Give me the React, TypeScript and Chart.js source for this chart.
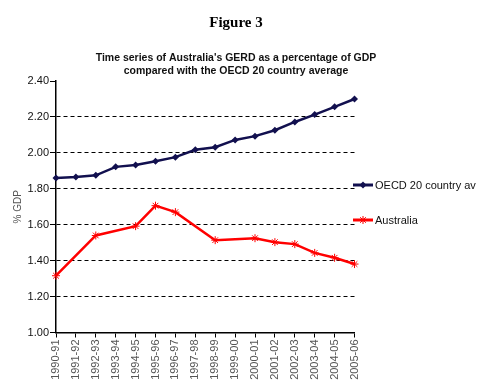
import React, { useEffect, useRef } from "react";
import { Chart, registerables } from "chart.js";

Chart.register(...registerables);

const categories = [
  "1990-91", "1991-92", "1992-93", "1993-94", "1994-95", "1995-96", "1996-97", "1997-98",
  "1998-99", "1999-00", "2000-01", "2001-02", "2002-03", "2003-04", "2004-05", "2005-06",
];
const oecdValues = [1.86, 1.865, 1.875, 1.922, 1.932, 1.953, 1.976, 2.017, 2.031, 2.072, 2.093, 2.126, 2.172, 2.213, 2.256, 2.3];
const australiaValues: (number | null)[] = [1.316, null, 1.54, null, 1.592, 1.706, 1.67, null, 1.514, null, 1.525, 1.503, 1.492, 1.443, 1.416, 1.381];
const yTicks = [1.0, 1.2, 1.4, 1.6, 1.8, 2.0, 2.2, 2.4];
const titleText = "Figure 3";
const subtitleLines = [
  "Time series of Australia's GERD as a percentage of GDP",
  "compared with the OECD 20 country average",
];
const seriesLabels = ["OECD 20 country av", "Australia"];

const SANS = "'Liberation Sans', Arial, sans-serif";
const SERIF = "'Liberation Serif', 'Times New Roman', serif";
const NAVY = "#12104f";
const RED = "#ff0000";

function drawDiamond(ctx: CanvasRenderingContext2D, x: number, y: number, r: number, color: string) {
  ctx.beginPath();
  ctx.moveTo(x, y - r);
  ctx.lineTo(x + r, y);
  ctx.lineTo(x, y + r);
  ctx.lineTo(x - r, y);
  ctx.closePath();
  ctx.fillStyle = color;
  ctx.fill();
}

function drawStar(ctx: CanvasRenderingContext2D, x: number, y: number, r: number, color: string) {
  ctx.beginPath();
  ctx.moveTo(x - r, y);
  ctx.lineTo(x + r, y);
  ctx.moveTo(x, y - r);
  ctx.lineTo(x, y + r);
  const d = r * 0.707;
  ctx.moveTo(x - d, y - d);
  ctx.lineTo(x + d, y + d);
  ctx.moveTo(x - d, y + d);
  ctx.lineTo(x + d, y - d);
  ctx.strokeStyle = color;
  ctx.lineWidth = 1;
  ctx.stroke();
}

const decorPlugin = {
  id: "decor",
  afterDraw(chart: any) {
    const ctx: CanvasRenderingContext2D = chart.ctx;
    ctx.save();
    ctx.textAlign = "center";
    ctx.textBaseline = "middle";
    ctx.fillStyle = "#000";
    ctx.font = `bold 15px ${SERIF}`;
    ctx.fillText(titleText, 228, 15);
    ctx.font = `bold 10.5px ${SANS}`;
    ctx.fillStyle = "#111";
    ctx.fillText(subtitleLines[0], 228, 50.5);
    ctx.fillText(subtitleLines[1], 228, 63.5);

    // legend
    const ys = [177, 212];
    const colors = [NAVY, RED];
    ctx.textAlign = "left";
    ctx.font = `11px ${SANS}`;
    for (let i = 0; i < 2; i++) {
      const y = ys[i];
      ctx.beginPath();
      ctx.moveTo(345, y);
      ctx.lineTo(365, y);
      ctx.strokeStyle = colors[i];
      ctx.lineWidth = 3;
      ctx.stroke();
      if (i === 0) drawDiamond(ctx, 355, y, 3.5, NAVY);
      else drawStar(ctx, 355, y, 4, RED);
      ctx.fillStyle = "#111";
      ctx.fillText(seriesLabels[i], 367, y + 0.5);
    }
    ctx.restore();
  },
};

export default function App() {
  const ref = useRef<HTMLCanvasElement | null>(null);
  useEffect(() => {
    if (!ref.current) return;
    const chart = new Chart(ref.current, {
      type: "line",
      data: {
        labels: categories,
        datasets: [
          {
            label: seriesLabels[0],
            data: oecdValues,
            borderColor: NAVY,
            backgroundColor: NAVY,
            borderWidth: 2.5,
            pointStyle: "rectRot",
            pointRadius: 3.5,
            pointBorderWidth: 0,
            pointBackgroundColor: NAVY,
            tension: 0,
          },
          {
            label: seriesLabels[1],
            data: australiaValues,
            borderColor: RED,
            backgroundColor: RED,
            borderWidth: 2.5,
            pointStyle: "star",
            pointRadius: 4,
            pointBorderWidth: 1,
            pointBorderColor: RED,
            spanGaps: true,
            tension: 0,
          },
        ],
      },
      options: {
        animation: false,
        responsive: true,
        maintainAspectRatio: false,
        layout: { padding: { top: 73, right: 130.5, bottom: 0, left: 0 } },
        plugins: {
          legend: { display: false },
          title: { display: false },
          tooltip: { enabled: false },
        },
        scales: {
          x: {
            type: "category",
            offset: false,
            grid: {
              drawOnChartArea: false,
              drawTicks: true,
              tickLength: 5,
              tickColor: "#000",
              tickWidth: 1,
            },
            border: { color: "#000", width: 1.5 },
            ticks: {
              minRotation: 90,
              maxRotation: 90,
              autoSkip: false,
              padding: 2,
              color: "#555",
              font: { family: SANS, size: 11 },
            },
            afterFit(scale: any) {
              scale.height = 51.5;
            },
          },
          y: {
            min: 1.0,
            max: 2.4,
            afterBuildTicks(scale: any) {
              scale.ticks = yTicks.map((v) => ({ value: v }));
            },
            grid: {
              color: (c: any) =>
                c.tick && (Math.abs(c.tick.value - 2.4) < 1e-6 || Math.abs(c.tick.value - 1.0) < 1e-6)
                  ? "rgba(0,0,0,0)"
                  : "#000",
              lineWidth: 1,
              tickColor: "#000",
              tickLength: 6,
              tickBorderDash: [],
              drawTicks: true,
            },
            border: { color: "#000", width: 1.5, dash: [4, 3] },
            ticks: {
              padding: 1,
              color: "#111",
              font: { family: SANS, size: 11 },
              callback: (v: any) => Number(v).toFixed(2),
            },
            title: {
              display: true,
              text: "% GDP",
              color: "#555",
              font: { family: SANS, size: 10 },
              padding: { top: 4, bottom: 0 },
            },
            afterFit(scale: any) {
              scale.width = 48;
            },
          },
        },
      },
      plugins: [decorPlugin],
    });
    return () => chart.destroy();
  }, []);
  return (
    <div style={{ width: "100%", height: 376, position: "relative" }}>
      <canvas ref={ref} />
    </div>
  );
}
